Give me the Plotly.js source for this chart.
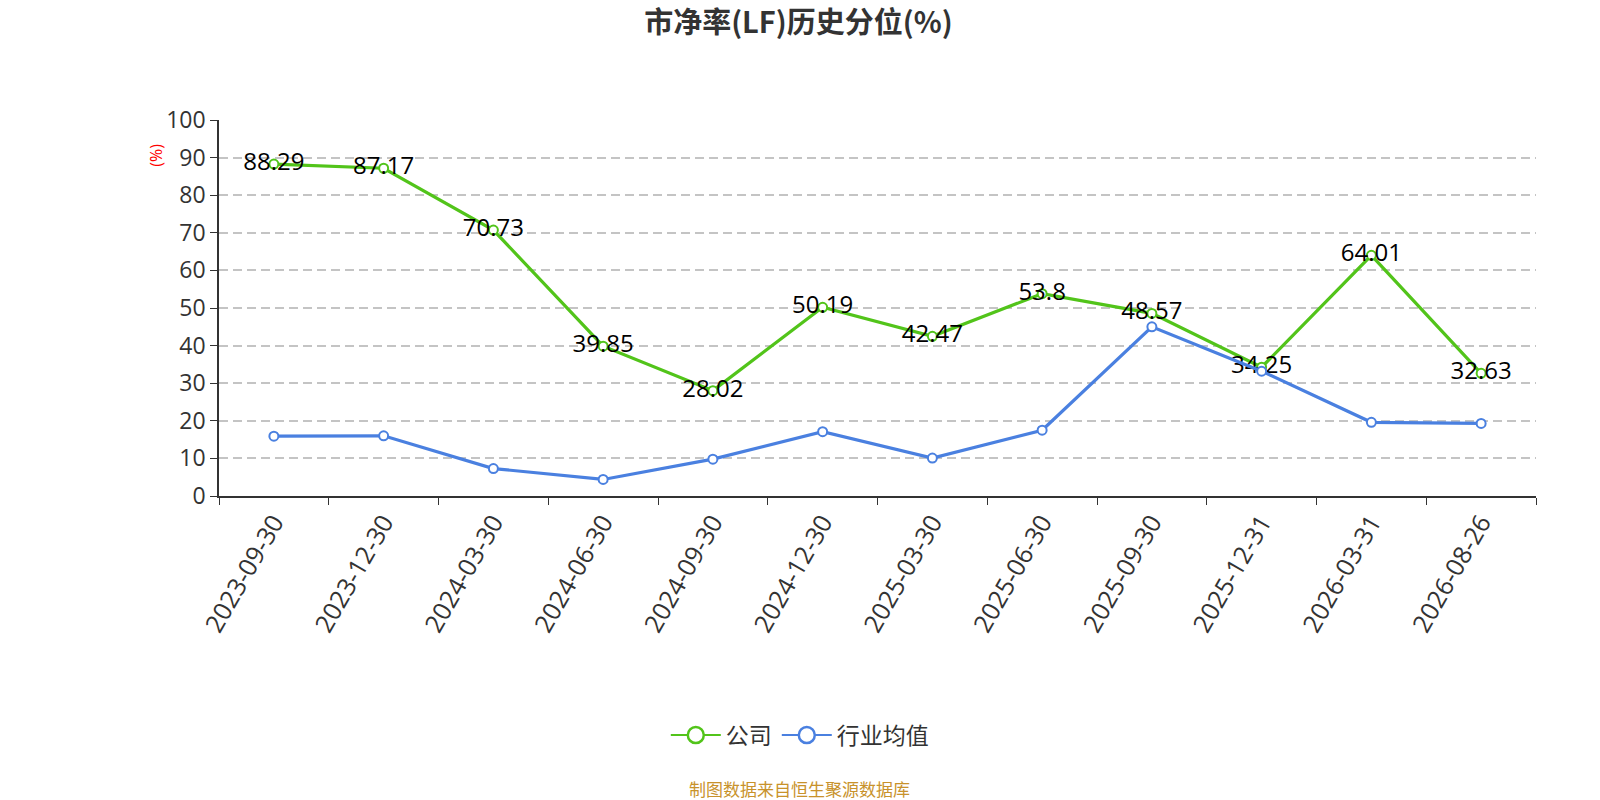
<!DOCTYPE html>
<html>
<head>
<meta charset="utf-8">
<script src="https://cdn.plot.ly/plotly-3.0.1.min.js"></script>
<style>
  html, body { margin: 0; padding: 0; background: #fff; }
  #chart { width: 1600px; height: 800px; }
</style>
</head>
<body>
<div id="chart"></div>
<script>
const dates = ["2023-09-30", "2023-12-30", "2024-03-30", "2024-06-30", "2024-09-30", "2024-12-30",
               "2025-03-30", "2025-06-30", "2025-09-30", "2025-12-31", "2026-03-31", "2026-08-26"];
const companyValues = [88.29, 87.17, 70.73, 39.85, 28.02, 50.19, 42.47, 53.8, 48.57, 34.25, 64.01, 32.63];
const industryValues = [15.9, 16.0, 7.3, 4.4, 9.8, 17.1, 10.1, 17.5, 45.0, 33.2, 19.6, 19.3];
const companyLabels = companyValues.map(String);

const green = "#52C41A";
const blue = "#4A80E0";
const baseFont = "Open Sans, Noto Sans CJK SC, sans-serif";
const cjkFont = "Noto Sans CJK SC, sans-serif";

// plotted series (legend drawn by the two entries below, with bigger symbols)
const company = {
  x: dates,
  y: companyValues,
  name: "公司",
  type: "scatter",
  mode: "lines+markers+text",
  text: companyLabels,
  textposition: "middle center",
  textfont: { size: 24, color: "#000", family: baseFont },
  line: { color: green, width: 3.2 },
  marker: { size: 9, color: "#fff", line: { color: green, width: 2 } },
  showlegend: false,
  legendgroup: "c"
};

const industry = {
  x: dates,
  y: industryValues,
  name: "行业均值",
  type: "scatter",
  mode: "lines+markers",
  line: { color: blue, width: 3.2 },
  marker: { size: 9, color: "#fff", line: { color: blue, width: 2 } },
  showlegend: false,
  legendgroup: "i"
};

// legend entries only
const companyKey = {
  x: [null], y: [null], name: "公司", type: "scatter", mode: "lines+markers",
  line: { color: green, width: 2 },
  marker: { size: 16, color: "#fff", line: { color: green, width: 2.5 } },
  legendgroup: "c", hoverinfo: "skip"
};
const industryKey = {
  x: [null], y: [null], name: "行业均值", type: "scatter", mode: "lines+markers",
  line: { color: blue, width: 2 },
  marker: { size: 16, color: "#fff", line: { color: blue, width: 2.5 } },
  legendgroup: "i", hoverinfo: "skip"
};

const layout = {
  width: 1600,
  height: 800,
  paper_bgcolor: "#fff",
  plot_bgcolor: "#fff",
  font: { family: baseFont, color: "#333" },
  margin: { l: 219, r: 64, t: 120, b: 304 },
  title: {
    text: "<b>市净率(LF)历史分位(%)</b>",
    font: { size: 29, color: "#333", family: cjkFont },
    xref: "container",
    x: 0.499,
    xanchor: "center",
    yref: "container",
    y: 0.971,
    yanchor: "middle"
  },
  xaxis: {
    type: "category",
    range: [-0.5, 11.5],
    tickson: "boundaries",
    ticks: "outside",
    ticklen: 7,
    tickcolor: "#333",
    tickangle: -60,
    tickfont: { size: 25, color: "#333" },
    showline: true,
    linecolor: "#333",
    linewidth: 1.5,
    showgrid: false,
    zeroline: false,
    automargin: false
  },
  yaxis: {
    range: [0, 100],
    dtick: 10,
    ticks: "outside",
    ticklen: 7,
    tickcolor: "#333",
    tickfont: { size: 23, color: "#333" },
    showline: true,
    linecolor: "#333",
    linewidth: 1.5,
    showgrid: true,
    gridcolor: "#c4c4c4",
    griddash: "9px,5px",
    gridwidth: 1.5,
    zeroline: false,
    automargin: false
  },
  legend: {
    orientation: "h",
    x: 0.441,
    xanchor: "center",
    y: -0.636,
    yanchor: "middle",
    font: { size: 23, color: "#333", family: cjkFont },
    itemsizing: "trace",
    itemwidth: 50,
    tracegroupgap: 0
  },
  showlegend: true,
  annotations: [
    {
      text: "(%)",
      xref: "paper", yref: "paper",
      x: -0.048, y: 0.907,
      xanchor: "center", yanchor: "middle",
      textangle: -90,
      showarrow: false,
      font: { size: 16, color: "#ff0000" }
    },
    {
      text: "制图数据来自恒生聚源数据库",
      xref: "paper", yref: "paper",
      x: 0.441, y: -0.779,
      xanchor: "center", yanchor: "middle",
      showarrow: false,
      font: { size: 17, color: "#C8922B", family: cjkFont }
    }
  ]
};

Plotly.newPlot("chart", [company, industry, companyKey, industryKey], layout, { displayModeBar: false });
</script>
</body>
</html>
